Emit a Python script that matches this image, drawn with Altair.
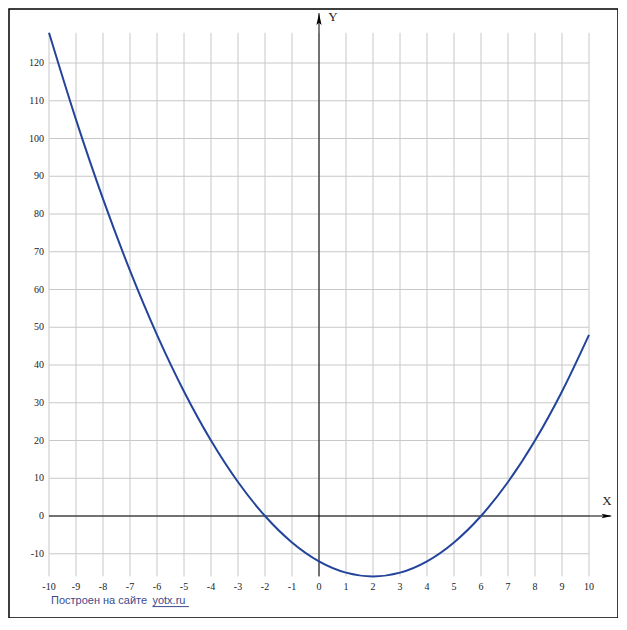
import altair as alt
import pandas as pd

# curve values read at integer x
xs = [-10, -9, -8, -7, -6, -5, -4, -3, -2, -1, 0, 1, 2, 3, 4, 5, 6, 7, 8, 9, 10]
ys = [128, 105, 84, 65, 48, 33, 20, 9, 0, -7, -12, -15, -16, -15, -12, -7, 0, 9, 20, 33, 48]

x_ticks = list(range(-10, 11))
y_ticks = list(range(-10, 121, 10))

XMIN, XMAX = -10, 10
YMIN, YMAX = -16, 128

xs_scale = alt.Scale(domain=[XMIN, XMAX], range=[40, 580], zero=False, nice=False)
ys_scale = alt.Scale(domain=[YMIN, YMAX], range=[567.4, 23.8], zero=False, nice=False)

def X(field="x"):
    return alt.X(f"{field}:Q", scale=xs_scale, axis=None)

def Y(field="y"):
    return alt.Y(f"{field}:Q", scale=ys_scale, axis=None)

curve_df = pd.DataFrame({"x": xs, "y": ys})
vgrid_df = pd.DataFrame({"x": x_ticks, "y": [YMIN] * len(x_ticks), "y2": [YMAX] * len(x_ticks)})
hgrid_df = pd.DataFrame({"y": y_ticks, "x": [XMIN] * len(y_ticks), "x2": [XMAX] * len(y_ticks)})

grid_color = "#c8c8c8"

vgrid = alt.Chart(vgrid_df).mark_rule(color=grid_color, strokeWidth=1).encode(
    x=X(), y=Y(), y2="y2:Q")
hgrid = alt.Chart(hgrid_df).mark_rule(color=grid_color, strokeWidth=1).encode(
    y=Y(), x=X(), x2="x2:Q")

# axes
xaxis = alt.Chart(pd.DataFrame({"x": [XMIN], "x2": [10.8], "y": [0]})).mark_rule(
    color="black", strokeWidth=1).encode(x=X(), x2="x2:Q", y=Y())
yaxis = alt.Chart(pd.DataFrame({"y": [YMIN], "y2": [133.2], "x": [0]})).mark_rule(
    color="black", strokeWidth=1).encode(y=Y(), y2="y2:Q", x=X())

xarrow = alt.Chart(pd.DataFrame({"x": [10.66], "y": [0]})).mark_point(
    shape="M-1,-0.45L1,0L-1,0.45L-0.6,0Z", filled=True, color="black", opacity=1, size=110).encode(x=X(), y=Y())
yarrow = alt.Chart(pd.DataFrame({"x": [0], "y": [131.6]})).mark_point(
    shape="M-0.45,1L0,-1L0.45,1L0,0.6Z", filled=True, color="black", opacity=1, size=130).encode(x=X(), y=Y())

xlab = alt.Chart(pd.DataFrame({"x": [10.66], "y": [0], "t": ["X"]})).mark_text(
    font="Liberation Serif", fontSize=13, color="#222", dy=-15).encode(x=X(), y=Y(), text="t:N")
ylab = alt.Chart(pd.DataFrame({"x": [0], "y": [131.6], "t": ["Y"]})).mark_text(
    font="Liberation Serif", fontSize=13, color="#222", dx=14, dy=-2).encode(x=X(), y=Y(), text="t:N")

# tick labels
xt_df = pd.DataFrame({"x": x_ticks, "y": [YMIN] * len(x_ticks), "t": [str(v) for v in x_ticks]})
yt_df = pd.DataFrame({"y": [0] + y_ticks, "x": [XMIN] * (len(y_ticks) + 1), "t": [str(v) for v in [0] + y_ticks]})
yt_df = yt_df.drop_duplicates("y")

xtl = alt.Chart(xt_df).mark_text(font="Liberation Serif", fontSize=10, color="#222",
                                 baseline="middle", align="center", dy=11).encode(
    x=X(), y=Y(), text="t:N")
ytl = alt.Chart(yt_df).mark_text(font="Liberation Serif", fontSize=10, color="#222",
                                 baseline="middle", align="right", dx=-5).encode(
    x=X(), y=Y(), text="t:N")

curve = alt.Chart(curve_df).mark_line(color="#23449a", strokeWidth=2,
                                      interpolate="monotone").encode(x=X(), y=Y())

# footer
foot_df = pd.DataFrame({"x": [XMIN], "y": [YMIN], "t": ["Построен на сайте"]})
foot = alt.Chart(foot_df).mark_text(font="Liberation Sans", fontSize=11, color="#3c4a8c",
                                    align="left", baseline="middle", dx=2, dy=25).encode(
    x=X(), y=Y(), text="t:N")
link_df = pd.DataFrame({"x": [-6.17], "y": [YMIN], "t": ["yotx.ru"]})
link = alt.Chart(link_df).mark_text(font="Liberation Sans", fontSize=11, color="#3c4a8c",
                                    align="left", baseline="middle", dy=25).encode(
    x=X(), y=Y(), text="t:N")
under = alt.Chart(pd.DataFrame({"x": [-6.17], "x2": [-4.82], "y": [-24.0]})).mark_rule(
    color="#3c4a8c", strokeWidth=1).encode(x=X(), x2="x2:Q", y=Y())

chart = alt.layer(vgrid, hgrid, xaxis, yaxis, xarrow, yarrow, xlab, ylab, xtl, ytl,
                  curve, foot, link, under).properties(
    width=609, height=609,
    autosize=alt.AutoSizeParams(type="none"),
    padding={"left": 1, "top": 1, "right": 0, "bottom": 0},
).configure_view(stroke="black", strokeWidth=1.5)

chart.save("out.html", embed_options={"renderer": "svg", "actions": False})
